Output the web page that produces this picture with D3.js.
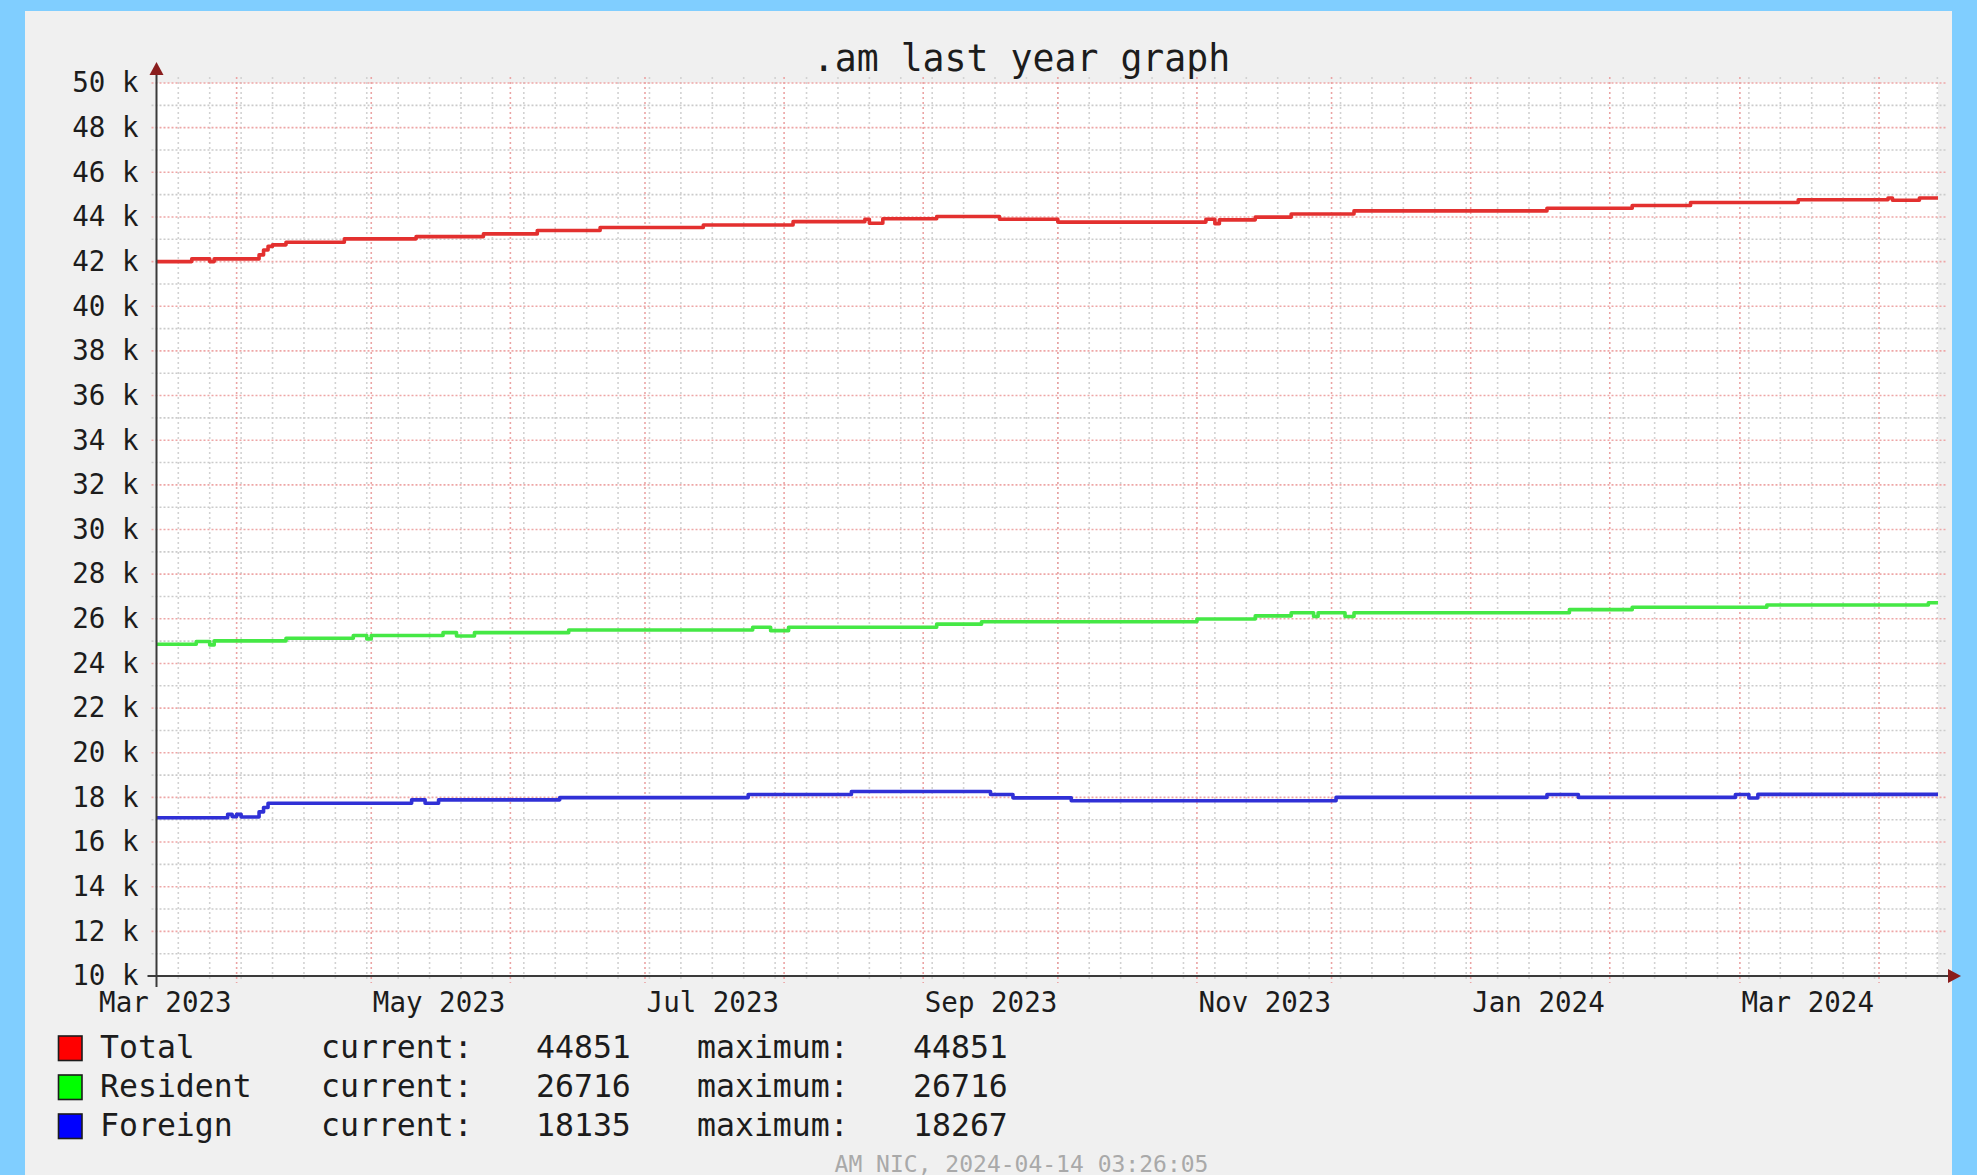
<!DOCTYPE html>
<html>
<head>
<meta charset="utf-8">
<script src="https://cdn.jsdelivr.net/npm/d3@7/dist/d3.min.js"></script>
<style>
html, body { margin: 0; padding: 0; background: #80ceff; overflow: hidden; }
svg { display: block; }
text { font-family: "DejaVu Sans Mono", monospace; fill: #1c1c1c; }
</style>
</head>
<body>
<div id="chart"></div>
<script>
// chart texts
var title = ".am last year graph";
var watermark = "AM NIC, 2024-04-14 03:26:05";
var timeStart = "2023-03-14 03:26";
var timeEnd = "2024-04-14 03:26";

// y ticks (every 2 k, labelled) and month labels (every 2 months)
var yTickValues = [10000, 12000, 14000, 16000, 18000, 20000, 22000, 24000, 26000, 28000,
                   30000, 32000, 34000, 36000, 38000, 40000, 42000, 44000, 46000, 48000, 50000];
var labelMonths = ["2023-03-01", "2023-05-01", "2023-07-01", "2023-09-01",
                   "2023-11-01", "2024-01-01", "2024-03-01"];

// series, values hold from each date until the next one
var totalDates = ["2023-03-14", "2023-03-22", "2023-03-26", "2023-03-27", "2023-04-06", "2023-04-07",
                  "2023-04-08", "2023-04-09", "2023-04-12", "2023-04-25", "2023-05-11", "2023-05-26",
                  "2023-06-07", "2023-06-21", "2023-07-14", "2023-08-03", "2023-08-19", "2023-08-20",
                  "2023-08-23", "2023-09-04", "2023-09-18", "2023-10-01", "2023-11-03", "2023-11-05",
                  "2023-11-06", "2023-11-14", "2023-11-22", "2023-12-06", "2024-01-18", "2024-02-06",
                  "2024-02-19", "2024-03-14", "2024-04-03", "2024-04-04", "2024-04-10"];
var totalValues = [42000, 42120, 42000, 42120, 42300, 42520, 42680, 42750, 42870, 43020, 43120, 43240,
                   43390, 43530, 43640, 43790, 43900, 43720, 43920, 44020, 43900, 43770, 43900, 43700,
                   43870, 43990, 44130, 44270, 44390, 44510, 44650, 44770, 44850, 44750, 44851];

var residentDates = ["2023-03-14", "2023-03-23", "2023-03-26", "2023-03-27", "2023-04-12", "2023-04-27",
                     "2023-04-30", "2023-05-01", "2023-05-17", "2023-05-20", "2023-05-24", "2023-06-14",
                     "2023-07-25", "2023-07-29", "2023-08-02", "2023-09-04", "2023-09-14", "2023-11-01",
                     "2023-11-14", "2023-11-22", "2023-11-27", "2023-11-28", "2023-12-04", "2023-12-06",
                     "2024-01-23", "2024-02-06", "2024-03-07", "2024-04-12"];
var residentValues = [24860, 24980, 24830, 25010, 25130, 25250, 25100, 25250, 25380, 25230, 25380, 25500,
                      25620, 25470, 25620, 25760, 25870, 25990, 26130, 26270, 26100, 26270, 26100, 26270,
                      26410, 26520, 26620, 26716];

var foreignDates = ["2023-03-14", "2023-03-30", "2023-03-31", "2023-04-01", "2023-04-02", "2023-04-06",
                    "2023-04-07", "2023-04-08", "2023-05-10", "2023-05-13", "2023-05-16", "2023-06-12",
                    "2023-07-24", "2023-08-16", "2023-09-16", "2023-09-21", "2023-10-04", "2023-12-02",
                    "2024-01-18", "2024-01-25", "2024-02-29", "2024-03-03", "2024-03-05"];
var foreignValues = [17090, 17240, 17140, 17240, 17120, 17350, 17550, 17740, 17890, 17740, 17890, 17990,
                     18130, 18267, 18130, 17980, 17850, 18000, 18130, 18000, 18130, 17970, 18135];

// legend
var seriesNames = ["Total", "Resident", "Foreign"];
var seriesColors = ["#ff0000", "#00ff00", "#0000ff"];
var lineColors = ["#e3302f", "#45e845", "#3030d6"];
var currentValues = [44851, 26716, 18135];
var maximumValues = [44851, 26716, 18267];

var W = 1977, H = 1175;
// plot area in pixels (note: "top" is a reserved window property)
var plotLeft = 156.5, plotRight = 1938, plotTop = 83, plotBottom = 976;

var parseDay = d3.timeParse("%Y-%m-%d");
var parseTime = d3.timeParse("%Y-%m-%d %H:%M");
var t0 = parseTime(timeStart), t1 = parseTime(timeEnd);

var svg = d3.select("#chart").append("svg").attr("width", W).attr("height", H);

// grey panel and white canvas
svg.append("rect").attr("x", 25).attr("y", 11).attr("width", 1927).attr("height", H)
    .attr("fill", "#f0f0f0");
svg.append("rect").attr("x", plotLeft).attr("y", plotTop)
    .attr("width", plotRight - plotLeft).attr("height", plotBottom - plotTop)
    .attr("fill", "#ffffff");

var x = d3.scaleTime().domain([t0, t1]).range([plotLeft, plotRight]);
var y = d3.scaleLinear().domain([10000, 50000]).range([plotBottom, plotTop]);

var grid = svg.append("g");

// minor grid: every 1 k and every week (sunday)
var minorY = d3.range(11000, 50000, 2000);
grid.selectAll(".hminor").data(minorY).enter().append("line")
    .attr("x1", plotLeft - 5).attr("x2", plotRight + 8)
    .attr("y1", d => y(d)).attr("y2", d => y(d))
    .attr("stroke", "#cbcbcb").attr("stroke-width", 1.6).attr("stroke-dasharray", "2,2");
var weeks = d3.timeSunday.range(t0, t1);
grid.selectAll(".vminor").data(weeks).enter().append("line")
    .attr("x1", d => x(d)).attr("x2", d => x(d))
    .attr("y1", plotTop - 6).attr("y2", plotBottom + 4)
    .attr("stroke", "#d2d2d2").attr("stroke-width", 1.6).attr("stroke-dasharray", "2,3");

// major grid: every 2 k and every month
var majorY = yTickValues.filter(d => d > 10000);
grid.selectAll(".hmajor").data(majorY).enter().append("line")
    .attr("x1", plotLeft - 5).attr("x2", plotRight + 8)
    .attr("y1", d => y(d)).attr("y2", d => y(d))
    .attr("stroke", "#eea6a6").attr("stroke-width", 1.6).attr("stroke-dasharray", "2,2");
var months = d3.timeMonth.range(t0, t1);
grid.selectAll(".vmajor").data(months).enter().append("line")
    .attr("x1", d => x(d)).attr("x2", d => x(d))
    .attr("y1", plotTop - 6).attr("y2", plotBottom + 7)
    .attr("stroke", "#eba4a4").attr("stroke-width", 1.6).attr("stroke-dasharray", "2,3");

// series lines
var seriesDates = [totalDates, residentDates, foreignDates];
var seriesValues = [totalValues, residentValues, foreignValues];
var line = d3.line().x(d => x(d.date)).y(d => y(d.value)).curve(d3.curveStepAfter);
seriesNames.forEach(function(name, i) {
    var pts = seriesDates[i].map(function(s, j) {
        return { date: j === 0 ? t0 : parseDay(s), value: seriesValues[i][j] };
    });
    pts.push({ date: t1, value: seriesValues[i][seriesValues[i].length - 1] });
    svg.append("path").datum(pts)
        .attr("d", line)
        .attr("fill", "none")
        .attr("stroke", lineColors[i])
        .attr("stroke-width", 3.6)
        .attr("stroke-linejoin", "round");
});

// axes lines with arrows
svg.append("line").attr("x1", plotLeft).attr("x2", plotLeft)
    .attr("y1", plotBottom + 11).attr("y2", plotTop - 12)
    .attr("stroke", "#3a3a3a").attr("stroke-width", 2);
svg.append("line").attr("x1", plotLeft - 9).attr("x2", 1950)
    .attr("y1", plotBottom).attr("y2", plotBottom)
    .attr("stroke", "#3a3a3a").attr("stroke-width", 2);
svg.append("path")
    .attr("d", "M" + (plotLeft - 7) + "," + (plotTop - 8) + "L" + plotLeft + "," + (plotTop - 21) +
               "L" + (plotLeft + 7) + "," + (plotTop - 8) + "Z")
    .attr("fill", "#8a1d1d");
svg.append("path")
    .attr("d", "M1948," + (plotBottom - 7) + "L1961," + plotBottom + "L1948," + (plotBottom + 7) + "Z")
    .attr("fill", "#8a1d1d");

// y axis labels
var yAxis = d3.axisLeft(y).tickValues(yTickValues).tickSize(0).tickPadding(18)
    .tickFormat(d => (d / 1000) + " k");
var gy = svg.append("g").attr("transform", "translate(" + plotLeft + ",0)").call(yAxis);
gy.select(".domain").remove();
gy.selectAll("text").attr("font-size", 27.5).attr("font-family", "DejaVu Sans Mono").attr("fill", "#1c1c1c");

// x axis labels, centred in the middle of the labelled month
var labelDates = labelMonths.map(m => d3.timeDay.offset(parseDay(m), 15));
var xAxis = d3.axisBottom(x).tickValues(labelDates).tickSize(0).tickPadding(16)
    .tickFormat(d3.timeFormat("%b %Y"));
var gx = svg.append("g").attr("transform", "translate(0," + plotBottom + ")").call(xAxis);
gx.select(".domain").remove();
gx.selectAll("text").attr("font-size", 27.5).attr("font-family", "DejaVu Sans Mono").attr("fill", "#1c1c1c");

// title
svg.append("text").attr("x", 1021.5).attr("y", 71).attr("text-anchor", "middle")
    .attr("font-size", 36.5).text(title);

// legend
var legend = svg.append("g");
seriesNames.forEach(function(name, i) {
    var ly = 1058 + i * 39;
    legend.append("rect").attr("x", 58.5).attr("y", ly - 22).attr("width", 23.5).attr("height", 24.5)
        .attr("fill", seriesColors[i]).attr("stroke", "#1c1c1c").attr("stroke-width", 1.6);
    legend.append("text").attr("x", 100).attr("y", ly).attr("font-size", 31.5).text(name);
    legend.append("text").attr("x", 321).attr("y", ly).attr("font-size", 31.5).text("current:");
    legend.append("text").attr("x", 536).attr("y", ly).attr("font-size", 31.5).text(currentValues[i]);
    legend.append("text").attr("x", 697).attr("y", ly).attr("font-size", 31.5).text("maximum:");
    legend.append("text").attr("x", 913).attr("y", ly).attr("font-size", 31.5).text(maximumValues[i]);
});

// watermark
svg.append("text").attr("x", 1021.5).attr("y", 1172).attr("text-anchor", "middle")
    .attr("font-size", 23).style("fill", "#a9a9a9").text(watermark);
</script>
</body>
</html>
